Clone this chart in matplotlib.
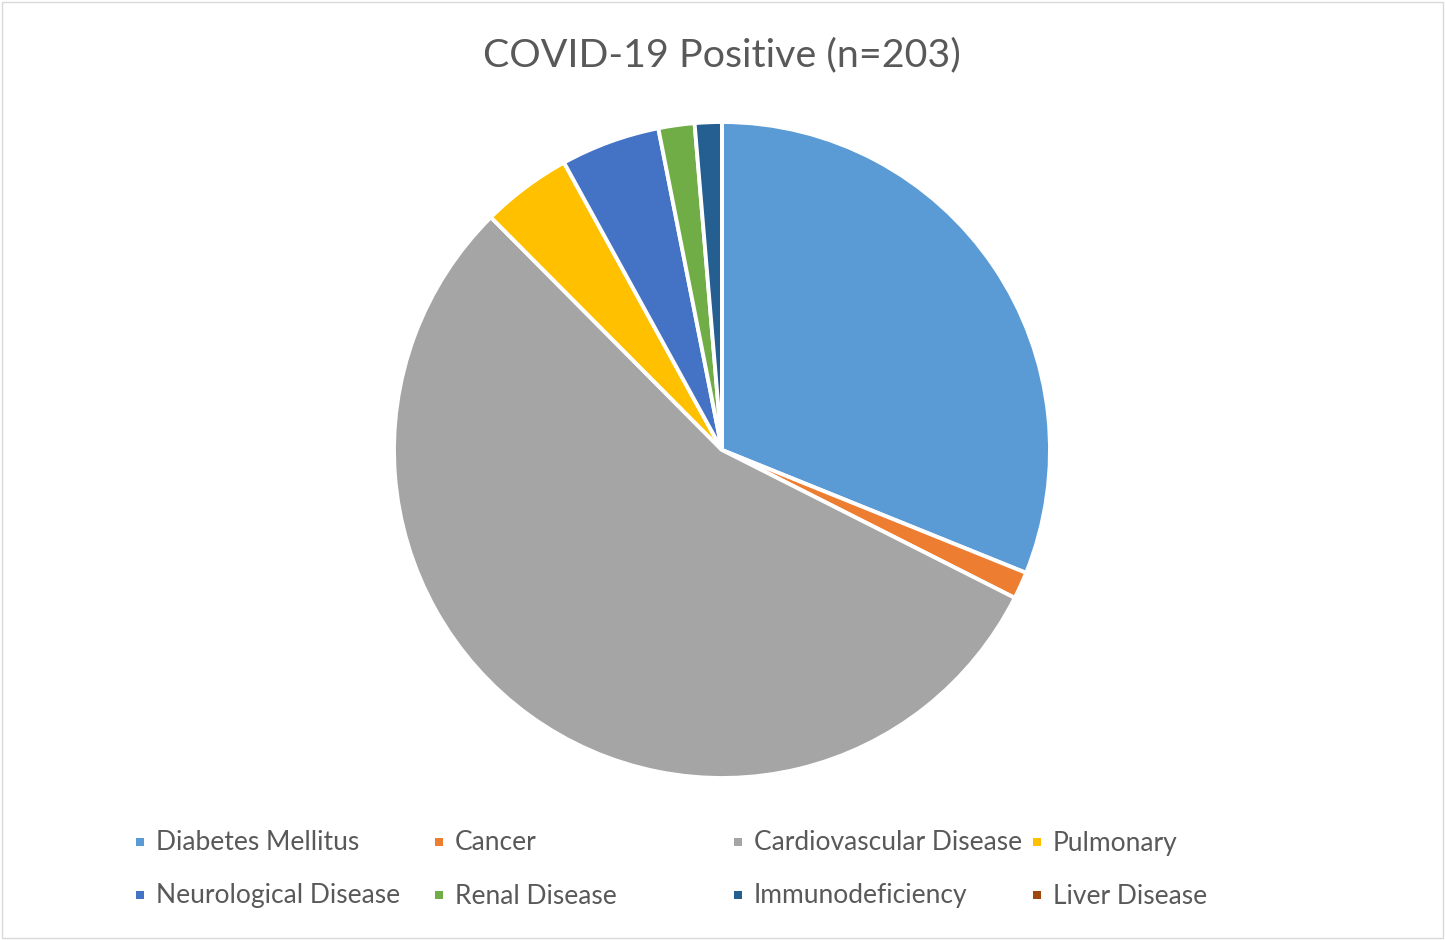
import matplotlib
matplotlib.use('Agg')
import matplotlib.pyplot as plt
import matplotlib.patches as mpatches

# ── Data ─────────────────────────────────────────────────────────────────
LABELS = [
    'Diabetes Mellitus', 'Cancer', 'Cardiovascular Disease', 'Pulmonary',
    'Neurological Disease', 'Renal Disease', 'Immunodeficiency', 'Liver Disease',
]
COUNTS = [70, 3, 124, 10, 11, 4, 3, 0]
COLORS = [
    '#5B9BD5', '#ED7D31', '#A5A5A5', '#FFC000',
    '#4472C4', '#70AD47', '#255E91', '#9E480E',
]
TITLE = 'COVID-19 Positive (n=203)'

# ── Layout (pixel space) ─────────────────────────────────────────────────
W, H = 1445, 940
CENTER = (722, H - 450)
RADIUS = 328
TEXT_COLOR = '#595959'
FONT = ['Lato', 'DejaVu Sans']

fig = plt.figure(figsize=(W / 100, H / 100), dpi=100)
fig.patch.set_facecolor('white')
ax = fig.add_axes([0, 0, 1, 1])

ax.pie(
    COUNTS, colors=COLORS, startangle=90, counterclock=False,
    center=CENTER, radius=RADIUS,
    wedgeprops={'edgecolor': 'white', 'linewidth': 2.8},
)
ax.set_xlim(0, W)
ax.set_ylim(0, H)
ax.set_aspect('auto')
ax.axis('off')

# thin chart-area border
ax.add_patch(mpatches.Rectangle((2, 2), W - 4, H - 4, fill=False,
                                edgecolor='#d9d9d9', linewidth=1.0))

ax.text(722, H - 55, TITLE, ha='center', va='center',
        fontsize=28.4, color=TEXT_COLOR, family=FONT)

# legend: 4 columns x 2 rows, row-major
col_x = [140, 439, 738, 1037]
row_y = [H - 842, H - 895]
for i, (label, color) in enumerate(zip(LABELS, COLORS)):
    x = col_x[i % 4]
    y = row_y[i // 4]
    ax.add_patch(mpatches.Rectangle((x - 4, y - 4), 8, 8,
                                    facecolor=color, edgecolor='none'))
    ax.text(x + 16, y - 1, label, ha='left', va='center',
            fontsize=19, color=TEXT_COLOR, family=FONT)

fig.savefig('out.png', dpi=100, facecolor='white')
